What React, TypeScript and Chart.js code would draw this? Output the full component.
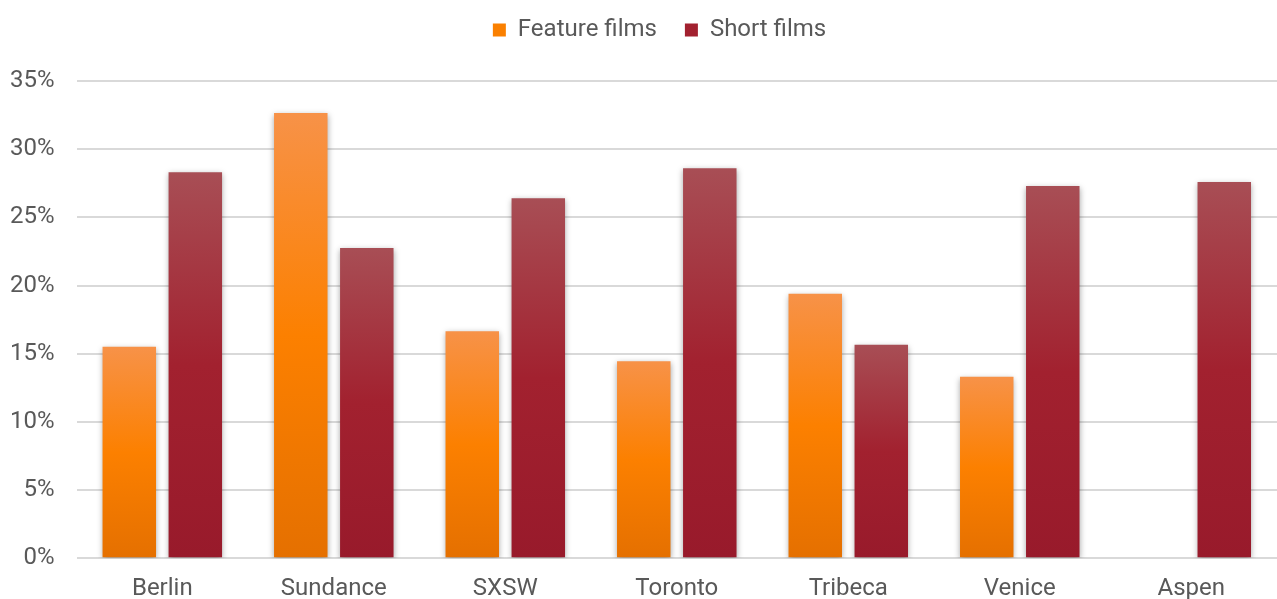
import React, { useEffect, useRef } from "react";
import { Chart, registerables } from "chart.js";

Chart.register(...registerables);

const categories = ["Berlin", "Sundance", "SXSW", "Toronto", "Tribeca", "Venice", "Aspen"];
const featureFilms = [15.5, 32.65, 16.65, 14.45, 19.4, 13.3, null];
const shortFilms = [28.3, 22.75, 26.4, 28.6, 15.65, 27.3, 27.6];
const yTicks = [0, 5, 10, 15, 20, 25, 30, 35];

const orangeStops: [number, string][] = [
  [0, "#F79248"],
  [0.5, "#FC8000"],
  [1, "#E57000"],
];
const redStops: [number, string][] = [
  [0, "#A84E55"],
  [0.5, "#A2212F"],
  [1, "#981A2B"],
];

function barGradient(stops: [number, string][]) {
  return (ctx: any) => {
    const chart = ctx.chart;
    const y = chart.scales?.y;
    const v = ctx.raw;
    if (!y || v == null || !chart.chartArea) return stops[1][1];
    const top = y.getPixelForValue(v);
    const base = y.getPixelForValue(0);
    if (!isFinite(top) || !isFinite(base) || top === base) return stops[1][1];
    const g = chart.ctx.createLinearGradient(0, top, 0, base);
    stops.forEach(([o, c]) => g.addColorStop(o, c));
    return g;
  };
}

const shadowPlugin = {
  id: "barShadow",
  beforeDatasetsDraw(chart: any) {
    const c = chart.ctx;
    c.save();
    c.shadowColor = "rgba(0,0,0,0.35)";
    c.shadowBlur = 6;
    c.shadowOffsetX = 0;
    c.shadowOffsetY = 2;
  },
  afterDatasetsDraw(chart: any) {
    chart.ctx.restore();
  },
};

const legendTweak = {
  id: "legendTweak",
  beforeInit(chart: any) {
    const legend = chart.legend;
    if (!legend) return;
    const origFit = legend.fit;
    legend.fit = function () {
      origFit.call(this);
      this.height += 29;
    };
    const origDraw = legend.draw;
    legend.draw = function () {
      const c = this.ctx;
      c.save();
      c.translate(27, 0);
      origDraw.call(this);
      c.restore();
    };
  },
};

export default function App() {
  const ref = useRef<HTMLCanvasElement | null>(null);
  useEffect(() => {
    if (!ref.current) return;
    const font = { family: "Roboto", size: 24 };
    const chart = new Chart(ref.current, {
      type: "bar",
      data: {
        labels: categories,
        datasets: [
          {
            label: "Feature films",
            data: featureFilms,
            backgroundColor: barGradient(orangeStops) as any,
            categoryPercentage: 0.77,
            barPercentage: 0.81,
          },
          {
            label: "Short films",
            data: shortFilms,
            backgroundColor: barGradient(redStops) as any,
            categoryPercentage: 0.77,
            barPercentage: 0.81,
          },
        ],
      },
      options: {
        animation: false,
        responsive: true,
        maintainAspectRatio: false,
        layout: { padding: { left: -12, right: 0, top: -10, bottom: -20 } },
        plugins: {
          tooltip: { enabled: false },
          legend: {
            position: "top",
            labels: {
              font,
              color: "#595959",
              boxWidth: 13,
              boxHeight: 13,
              padding: 28,
              generateLabels: () => [
                { text: "Feature films", fillStyle: "#FA8000", strokeStyle: "#FA8000", lineWidth: 0, datasetIndex: 0, fontColor: "#595959" } as any,
                { text: "Short films", fillStyle: "#A2212F", strokeStyle: "#A2212F", lineWidth: 0, datasetIndex: 1, fontColor: "#595959" } as any,
              ],
            },
          },
        },
        scales: {
          x: {
            grid: { display: false, drawTicks: false },
            border: { display: false },
            ticks: { font, color: "#595959", padding: 16 },
          },
          y: {
            min: 0,
            max: 35,
            afterBuildTicks: (axis: any) => {
              axis.ticks = yTicks.map((v) => ({ value: v }));
            },
            grid: { color: "#D9D9D9", lineWidth: 2, drawTicks: false },
            border: { display: false },
            ticks: {
              font,
              color: "#595959",
              padding: 22,
              callback: (v: any) => v + "%",
            },
          },
        },
      },
      plugins: [shadowPlugin, legendTweak],
    });
    return () => chart.destroy();
  }, []);
  return (
    <div style={{ position: "fixed", left: 0, top: 0, width: 1277, height: 599, background: "#fff" }}>
      <canvas ref={ref} />
    </div>
  );
}
